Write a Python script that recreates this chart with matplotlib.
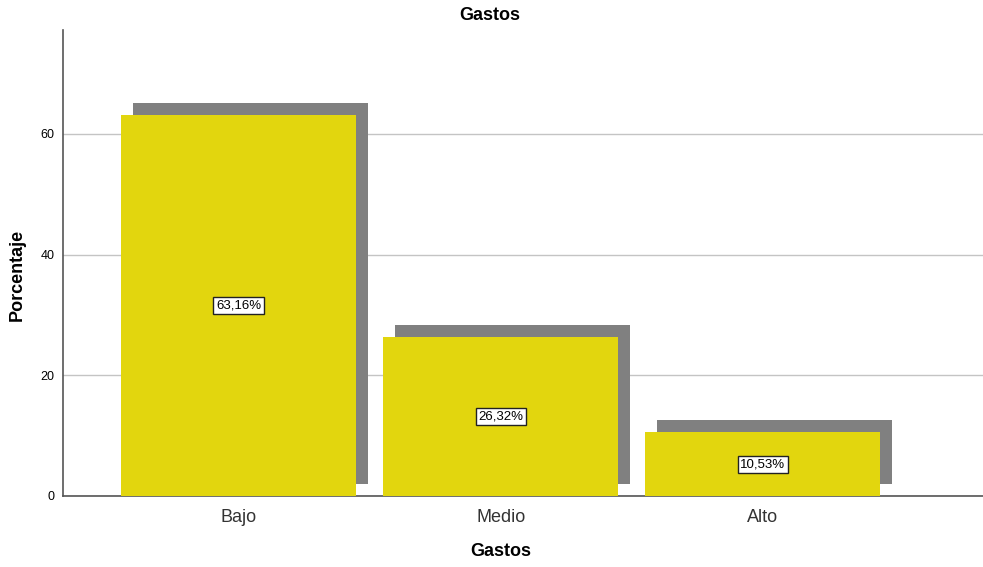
import matplotlib
matplotlib.use("Agg")
import matplotlib.pyplot as plt
from matplotlib.transforms import ScaledTranslation

plt.rcParams["font.family"] = ["Liberation Sans", "DejaVu Sans"]

categories = ["Bajo", "Medio", "Alto"]
percent = [63.16, 26.32, 10.53]
labels = ["63,16%", "26,32%", "10,53%"]

YELLOW = "#E2D60E"
SHADOW = "#808080"
AXIS = "#555555"

fig = plt.figure(figsize=(9.83, 5.67), dpi=100)
ax = fig.add_axes([63 / 983, 71 / 567, 920 / 983, 466 / 567])

x = list(range(len(categories)))
width = 0.897

# drop shadow: same bars shifted 12 px right and 12 px up
shift = ax.transData + ScaledTranslation(0.12, 0.12, fig.dpi_scale_trans)
ax.bar(x, percent, width=width, color=SHADOW, transform=shift, zorder=2)
ax.bar(x, percent, width=width, color=YELLOW, zorder=3)

for xi, v, lab in zip(x, percent, labels):
    ax.text(xi, v / 2, lab, ha="center", va="center", fontsize=9.5, zorder=4,
            bbox=dict(boxstyle="square,pad=0.2", fc="white", ec="#222222", lw=1))

ax.set_xlim(-0.67, 2.84)
ax.set_ylim(0, 77.2)
ax.set_yticks([0, 20, 40, 60])
ax.set_xticks(x)
ax.set_xticklabels(categories, fontsize=13, color="#333333")
ax.tick_params(axis="y", length=0, labelsize=9, pad=6)
ax.tick_params(axis="x", length=0, pad=9)
ax.yaxis.grid(True, color="#C4C4C4", lw=1, zorder=0)
ax.set_axisbelow(True)

for s in ("top", "right"):
    ax.spines[s].set_visible(False)
for s in ("left", "bottom"):
    ax.spines[s].set_color(AXIS)
    ax.spines[s].set_linewidth(1.2)

# titles placed in figure pixels to match the SPSS layout
fig.text(490 / 983, 1 - 15 / 567, "Gastos", ha="center", va="center",
         fontsize=13, fontweight="bold")
fig.text(501 / 983, 1 - 552 / 567, "Gastos", ha="center", va="center",
         fontsize=13, fontweight="bold")
fig.text(17 / 983, 1 - 275 / 567, "Porcentaje", ha="center", va="center",
         rotation=90, fontsize=13, fontweight="bold")

fig.savefig("out.png", dpi=100)
